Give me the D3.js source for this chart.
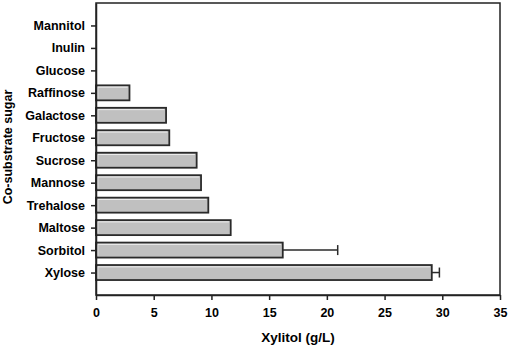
<!DOCTYPE html>
<html>
<head>
<meta charset="utf-8">
<title>Xylitol</title>
<script src="https://cdn.jsdelivr.net/npm/d3@7"></script>
<style>
body{margin:0;background:#fff;}
.axis path,.axis line{stroke:#222;stroke-width:1.5px;}
.axis text{font-family:"Liberation Sans",Arial,sans-serif;font-weight:bold;font-size:12.5px;fill:#000;}
</style>
</head>
<body>
<script>
// sugars, top to bottom
var sugars = ["Mannitol","Inulin","Glucose","Raffinose","Galactose","Fructose","Sucrose","Mannose","Trehalose","Maltose","Sorbitol","Xylose"];
var xylitol = [0,0,0,2.9,6.07,6.35,8.72,9.1,9.73,11.67,16.18,29.09];
var errs = [0,0,0,0,0,0,0,0,0,0,4.76,0.66];
var xTicks = [0,5,10,15,20,25,30,35];

var w = 510, h = 348;
var pl = 96, pr = 500, pt = 3, pb = 295; // plot box

var svg = d3.select("body").append("svg").attr("width",w).attr("height",h);

var x = d3.scaleLinear().domain([0,35]).range([pl,pr]);
var y = d3.scalePoint().domain(sugars).range([pt,pb]).padding(1);
var bh = 15;

// bars
var g = svg.append("g");
var bars = g.selectAll("g.bar").data(sugars).enter().append("g")
  .filter(function(d,i){return xylitol[i] > 0;});
bars.append("rect")
  .attr("x", x(0))
  .attr("y", function(d){return y(d) - bh/2;})
  .attr("width", function(d){return x(xylitol[sugars.indexOf(d)]) - x(0);})
  .attr("height", bh)
  .attr("fill","#c0c0c0")
  .attr("stroke","#2a2a2a")
  .attr("stroke-width",1.8);
bars.append("path")
  .attr("d", function(d){
    var x1 = x(0)+1.8, y1 = y(d)-bh/2+1.8, x2 = x(xylitol[sugars.indexOf(d)])-1.8;
    return "M"+x1+","+(y(d)+bh/2-1.8)+"V"+y1+"H"+x2;
  })
  .attr("fill","none")
  .attr("stroke","#ececec")
  .attr("stroke-width",1);

// error bars
var eb = g.selectAll("g.err").data(sugars).enter().append("g")
  .filter(function(d,i){return errs[i] > 0;});
eb.append("line")
  .attr("x1", function(d){return x(xylitol[sugars.indexOf(d)]);})
  .attr("x2", function(d){var i = sugars.indexOf(d);return x(xylitol[i]+errs[i]);})
  .attr("y1", function(d){return y(d);})
  .attr("y2", function(d){return y(d);})
  .attr("stroke","#2a2a2a").attr("stroke-width",1.5);
eb.append("line")
  .attr("x1", function(d){var i = sugars.indexOf(d);return x(xylitol[i]+errs[i]);})
  .attr("x2", function(d){var i = sugars.indexOf(d);return x(xylitol[i]+errs[i]);})
  .attr("y1", function(d){return y(d)-5;})
  .attr("y2", function(d){return y(d)+5;})
  .attr("stroke","#2a2a2a").attr("stroke-width",1.5);

// frame
svg.append("rect").attr("x",pl).attr("y",pt).attr("width",pr-pl).attr("height",pb-pt)
  .attr("fill","none").attr("stroke","#222").attr("stroke-width",1.5);

// axes
var xAxis = d3.axisBottom(x).tickValues(xTicks).tickSizeInner(5).tickSizeOuter(0).tickPadding(8);
svg.append("g").attr("class","axis").attr("transform","translate(0,"+pb+")").call(xAxis);
var yAxis = d3.axisLeft(y).tickSizeInner(5).tickSizeOuter(0).tickPadding(6);
svg.append("g").attr("class","axis").attr("transform","translate("+pl+",0)").call(yAxis);

// titles
svg.append("text").attr("x",298).attr("y",342)
  .attr("text-anchor","middle")
  .attr("font-family","Liberation Sans, Arial, sans-serif").attr("font-weight","bold").attr("font-size","13.5px")
  .text("Xylitol (g/L)");
svg.append("text").attr("transform","translate(12,147) rotate(-90)")
  .attr("text-anchor","middle")
  .attr("font-family","Liberation Sans, Arial, sans-serif").attr("font-weight","bold").attr("font-size","12.5px")
  .text("Co-substrate sugar");
</script>
</body>
</html>
